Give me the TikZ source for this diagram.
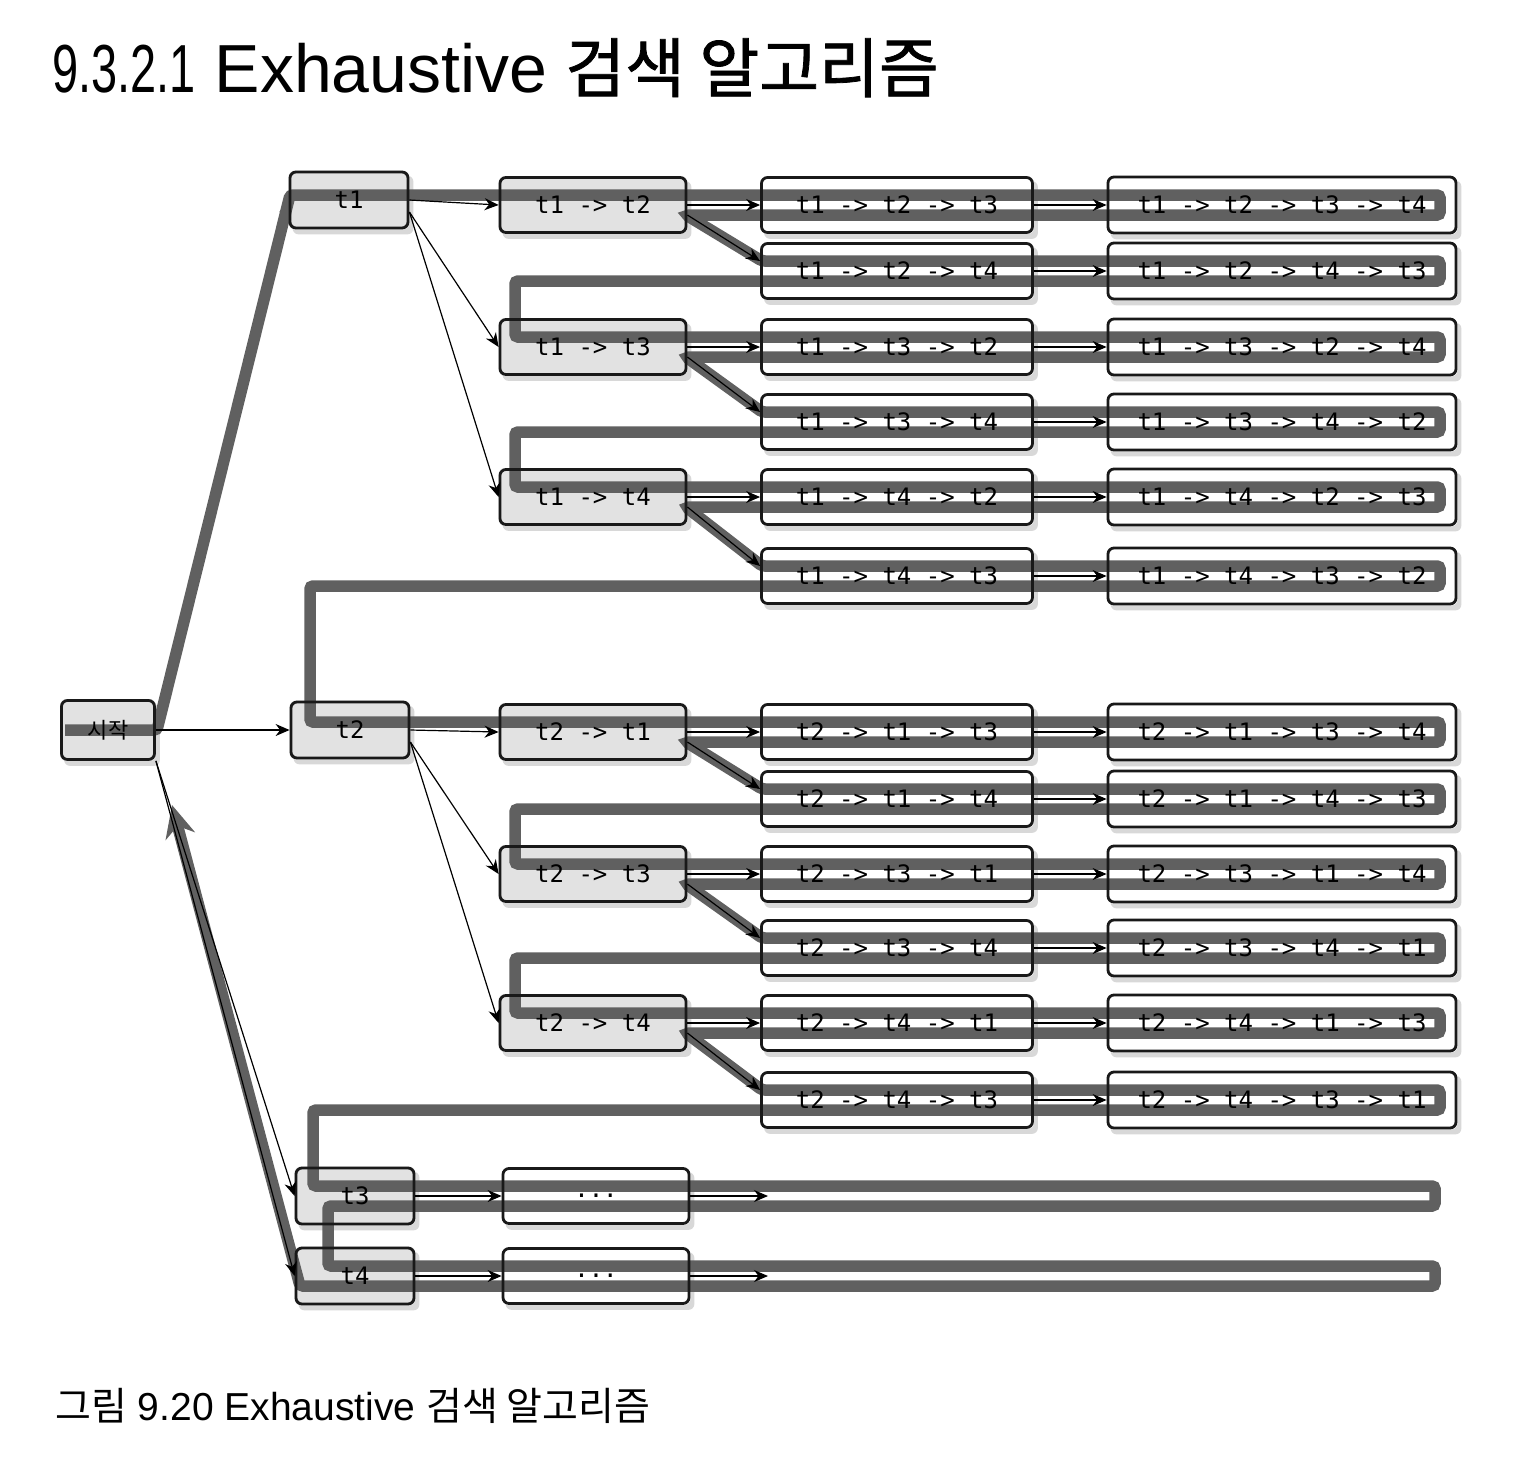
\documentclass[tikz,border=0pt]{standalone}
\usepackage{graphicx}
\usepackage{fontspec}
\setmainfont{Liberation Sans}
\newfontfamily\kr{Noto Sans CJK KR}
\newfontfamily\krt[FakeBold=1.2]{Noto Sans CJK KR}
\newfontfamily\mono{DejaVu Sans Mono}
\usetikzlibrary{arrows.meta,calc,shadows}
\pgfdeclarelayer{fills}
\pgfdeclarelayer{route}
\pgfsetlayers{fills,route,main}
\definecolor{routegray}{RGB}{96,96,96}
\definecolor{boxgray}{RGB}{226,226,226}
\tikzset{
  tbox/.style={draw=black!90, line width=1.4pt, rounded corners=3pt, inner sep=0pt,
    font=\mono\fontsize{12}{14}\selectfont, text=black},
  lvA/.style={tbox, minimum width=59pt, minimum height=28pt},
  lvB/.style={tbox, minimum width=93pt, minimum height=27.5pt},
  lvC/.style={tbox, minimum width=135.5pt, minimum height=27.5pt},
  lvD/.style={tbox, minimum width=174pt, minimum height=28pt},
  edge/.style={draw=black, line width=0.6pt, -{Stealth[length=7pt,width=6pt]}},
  routeline/.style={draw=routegray, line width=5.75pt, rounded corners=1.5pt},
  shadowed/.style={drop shadow={opacity=0.3, shadow xshift=2pt, shadow yshift=-2.5pt}},
  grayfill/.style={fill=boxgray, shadowed, rounded corners=3pt},
  whitefill/.style={fill=white, shadowed, rounded corners=3pt},
}
\begin{document}
\begin{tikzpicture}[x=0.5pt,y=-0.5pt]
\useasboundingbox (0,0) rectangle (1522,1458);

% title and caption
\node[anchor=base west, inner sep=0pt] (title) at (52,92)
  {\fontsize{34}{40}\selectfont\scalebox{0.69}[1]{9.3.2.1} Exhaustive\hspace{9pt}{\krt\fontsize{32.5}{36}\selectfont 검색 알고리즘}};
\node[anchor=base west, inner sep=0pt] (caption) at (55,1420)
  {\fontsize{19.5}{24}\selectfont{\kr 그림} 9.20 Exhaustive {\kr 검색 알고리즘}};

% level 0 and 1
\node[lvA, font=\kr\fontsize{11}{13}\selectfont, minimum width=46.5pt, minimum height=29.5pt] (s) at (108,730) {시작};
\node[lvA] (a1) at (349,200) {t1};
\node[lvA] (a2) at (350,730) {t2};
\node[lvA] (a3) at (355,1196) {t3};
\node[lvA] (a4) at (355,1276) {t4};

% level 2
\node[lvB] (b12) at (593,205) {t1 -> t2};
\node[lvB] (b13) at (593,347) {t1 -> t3};
\node[lvB] (b14) at (593,497) {t1 -> t4};
\node[lvB] (b21) at (593,732) {t2 -> t1};
\node[lvB] (b23) at (593,874) {t2 -> t3};
\node[lvB] (b24) at (593,1023) {t2 -> t4};
\node[lvB] (b3) at (596,1196) {...};
\node[lvB] (b4) at (596,1276) {...};
\coordinate (e3) at (768,1196);
\coordinate (e4) at (768,1276);

% level 3
\foreach \n/\y/\t in {c123/205/{t1 -> t2 -> t3}, c124/271/{t1 -> t2 -> t4},
    c132/347/{t1 -> t3 -> t2}, c134/422/{t1 -> t3 -> t4},
    c142/497/{t1 -> t4 -> t2}, c143/576/{t1 -> t4 -> t3},
    c213/732/{t2 -> t1 -> t3}, c214/799/{t2 -> t1 -> t4},
    c231/874/{t2 -> t3 -> t1}, c234/948/{t2 -> t3 -> t4},
    c241/1023/{t2 -> t4 -> t1}, c243/1100/{t2 -> t4 -> t3}}
  \node[lvC] (\n) at (897,\y) {\t};

% level 4
\foreach \n/\y/\t in {d1234/205/{t1 -> t2 -> t3 -> t4}, d1243/271/{t1 -> t2 -> t4 -> t3},
    d1324/347/{t1 -> t3 -> t2 -> t4}, d1342/422/{t1 -> t3 -> t4 -> t2},
    d1423/497/{t1 -> t4 -> t2 -> t3}, d1432/576/{t1 -> t4 -> t3 -> t2},
    d2134/732/{t2 -> t1 -> t3 -> t4}, d2143/799/{t2 -> t1 -> t4 -> t3},
    d2314/874/{t2 -> t3 -> t1 -> t4}, d2341/948/{t2 -> t3 -> t4 -> t1},
    d2413/1023/{t2 -> t4 -> t1 -> t3}, d2431/1100/{t2 -> t4 -> t3 -> t1}}
  \node[lvD] (\n) at (1282,\y) {\t};

% fills and shadows
\begin{pgfonlayer}{fills}
\fill[white] (0,0) rectangle (1522,1458);
\foreach \n in {s,a1,a2,a3,a4,b12,b13,b14,b21,b23,b24}
  \fill[grayfill] (\n.south west) rectangle (\n.north east);
\foreach \n in {b3,b4,c123,c124,c132,c134,c142,c143,c213,c214,c231,c234,c241,c243,
    d1234,d1243,d1324,d1342,d1423,d1432,d2134,d2143,d2314,d2341,d2413,d2431}
  \fill[whitefill] (\n.south west) rectangle (\n.north east);
\end{pgfonlayer}

% traversal route (drawn over the hidden edge from the start node to t1)
\begin{pgfonlayer}{route}
\draw[edge] (s.east) -- (a1.west);
\draw[routeline, -{Stealth[length=16pt,width=15pt]}]
  (65,730) -- (157,730) -- (290,195)
  -- (1440,195) -- (1440,215) -- (686,215) -- (762,261)
  -- (1440,261) -- (1440,281) -- (515,281) -- (515,337)
  -- (1440,337) -- (1440,357) -- (686,357) -- (762,412)
  -- (1440,412) -- (1440,432) -- (515,432) -- (515,487)
  -- (1440,487) -- (1440,507) -- (686,507) -- (762,566)
  -- (1440,566) -- (1440,586) -- (310,586) -- (310,722)
  -- (1440,722) -- (1440,742) -- (686,742) -- (762,789)
  -- (1440,789) -- (1440,809) -- (515,809) -- (515,864)
  -- (1440,864) -- (1440,884) -- (686,884) -- (762,938)
  -- (1440,938) -- (1440,958) -- (515,958) -- (515,1013)
  -- (1440,1013) -- (1440,1033) -- (686,1033) -- (762,1090)
  -- (1440,1090) -- (1440,1110) -- (313,1110) -- (313,1186)
  -- (1435,1186) -- (1435,1206) -- (328,1206) -- (328,1266)
  -- (1435,1266) -- (1435,1286) -- (300,1286) -- (172,805);
\end{pgfonlayer}

% tree edges
\draw[edge] (s.east) -- (a2.west);
\draw[edge] (s.south east) -- (a3.west);
\draw[edge] (s.south east) -- (a4.west);

\draw[edge] (a1.east) -- (b12.west);
\draw[edge] ($(a1.east)+(0,12)$) -- (b13.west);
\draw[edge] ($(a1.east)+(0,12)$) -- (b14.west);
\draw[edge] (a2.east) -- (b21.west);
\draw[edge] ($(a2.east)+(0,12)$) -- (b23.west);
\draw[edge] ($(a2.east)+(0,12)$) -- (b24.west);
\draw[edge] (a3.east) -- (b3.west);
\draw[edge] (a4.east) -- (b4.west);
\draw[edge] (b3.east) -- (e3);
\draw[edge] (b4.east) -- (e4);

\foreach \p/\f/\g in {b12/c123/c124, b13/c132/c134, b14/c142/c143,
    b21/c213/c214, b23/c231/c234, b24/c241/c243} {
  \draw[edge] (\p.east) -- (\f.west);
  \draw[edge] ($(\p.east)+(0,10)$) -- ($(\g.west)+(0,-10)$);
}
\foreach \c/\d in {c123/d1234, c124/d1243, c132/d1324, c134/d1342, c142/d1423, c143/d1432,
    c213/d2134, c214/d2143, c231/d2314, c234/d2341, c241/d2413, c243/d2431}
  \draw[edge] (\c.east) -- (\d.west);
\end{tikzpicture}
\end{document}
